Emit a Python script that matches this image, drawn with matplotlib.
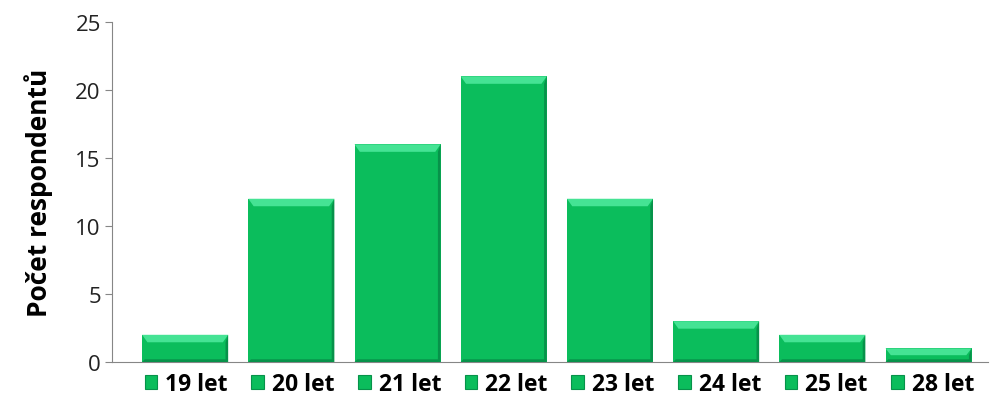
import matplotlib.pyplot as plt
from matplotlib.patches import Polygon, Rectangle

categories = ["19 let", "20 let", "21 let", "22 let", "23 let", "24 let", "25 let", "28 let"]
counts = [2, 12, 16, 21, 12, 3, 2, 1]

plt.rcParams['font.family'] = ['Open Sans', 'DejaVu Sans']

fig = plt.figure(figsize=(9.9, 4.02), dpi=100)
ax = fig.add_axes([0.113, 0.097, 0.885, 0.846])

base = "#0BBD5C"
light = "#45E394"
dark = "#07924A"

x = list(range(len(categories)))
bars = ax.bar(x, counts, width=0.81, color=base, edgecolor="none", zorder=2)

# simple bevel: lighter top strip, darker bottom/right strip
bev_y = 0.55
bev_x = 0.05
for b in bars:
    x0, w, h = b.get_x(), b.get_width(), b.get_height()
    x1 = x0 + w
    by = min(bev_y, h / 2)
    ax.add_patch(Polygon([(x0, h), (x1, h), (x1 - bev_x, h - by), (x0 + bev_x, h - by)],
                         closed=True, color=light, lw=0, zorder=3))
    ax.add_patch(Polygon([(x1, h), (x1, 0), (x1 - bev_x * 0.5, 0.15), (x1 - bev_x * 0.5, h - by)],
                         closed=True, color=dark, lw=0, zorder=3))
    ax.add_patch(Polygon([(x0, 0), (x1, 0), (x1 - bev_x * 0.5, 0.2), (x0 + bev_x * 0.5, 0.2)],
                         closed=True, color=dark, lw=0, zorder=3))

ax.set_xlim(-0.69, len(categories) - 0.44)
ax.set_ylim(0, 25)
ax.set_yticks([0, 5, 10, 15, 20, 25])
ax.set_xticks([])
ax.tick_params(axis='y', labelsize=16, length=5, color="#868686", labelcolor="#222222", pad=3)
for s in ["top", "right"]:
    ax.spines[s].set_visible(False)
for s in ["left", "bottom"]:
    ax.spines[s].set_color("#868686")
ax.set_ylabel("Počet respondentů", fontsize=19, fontweight="bold", labelpad=16)

handles = [Rectangle((0, 0), 1, 1, facecolor=base, edgecolor=dark, lw=0.8) for _ in categories]
fig.legend(handles, categories, loc="center", bbox_to_anchor=(0.565, 0.042), ncol=8,
           frameon=False, prop={'weight': 'bold', 'size': 16.5}, handlelength=0.55,
           handleheight=0.55, handletextpad=0.35, columnspacing=1.03)

fig.savefig("out.png", dpi=100)
